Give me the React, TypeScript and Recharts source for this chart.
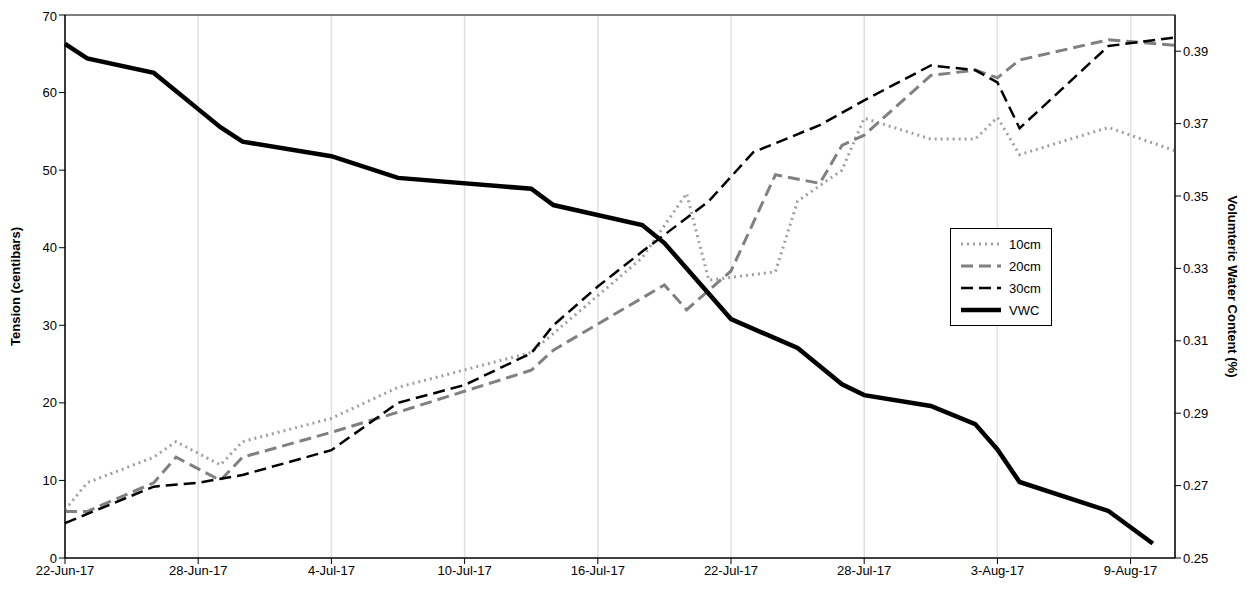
import { LineChart, Line, XAxis, YAxis, CartesianGrid } from 'recharts'

const tickDays = [0, 6, 12, 18, 24, 30, 36, 42, 48]
const tickLabels = ['22-Jun-17', '28-Jun-17', '4-Jul-17', '10-Jul-17', '16-Jul-17', '22-Jul-17', '28-Jul-17', '3-Aug-17', '9-Aug-17']
const leftTicks = [0, 10, 20, 30, 40, 50, 60, 70]
const rightTicks = [0.25, 0.27, 0.29, 0.31, 0.33, 0.35, 0.37, 0.39]

const days10 = [0, 1, 4, 5, 7, 8, 12, 15, 21, 26, 28, 29, 32, 33, 35, 36, 39, 41, 42, 43, 47, 50]
const vals10 = [6.2, 9.7, 13, 15, 12, 15, 18, 22, 26.5, 38.7, 47, 35.8, 36.9, 46, 50, 56.7, 54, 54, 56.8, 52, 55.5, 52.5]
const days20 = [0, 1, 4, 5, 7, 8, 12, 15, 21, 22, 27, 28, 30, 32, 34, 35, 36, 39, 41, 42, 43, 47, 50]
const vals20 = [6, 6, 9.7, 13, 10, 13, 16.2, 18.8, 24.2, 26.8, 35.2, 32, 37, 49.4, 48.3, 53.2, 54.5, 62.2, 62.9, 61.9, 64.2, 66.8, 66.1]
const days30 = [0, 4, 6, 8, 12, 15, 18, 21, 22, 24, 26, 29, 31, 34, 36, 39, 41, 42, 43, 47, 50]
const vals30 = [4.5, 9.2, 9.7, 10.7, 13.9, 20, 22.3, 26.4, 30, 35, 39.5, 46, 52.3, 55.8, 59, 63.5, 62.9, 61.3, 55.4, 66, 67.1]
const daysVwc = [0, 1, 4, 5, 6, 7, 8, 12, 15, 21, 22, 26, 27, 30, 33, 35, 36, 39, 41, 42, 43, 47, 49]
const valsVwc = [0.392, 0.388, 0.384, 0.379, 0.374, 0.369, 0.365, 0.361, 0.355, 0.352, 0.3475, 0.342, 0.337, 0.316, 0.308, 0.298, 0.295, 0.292, 0.287, 0.28, 0.271, 0.263, 0.254]

const zip = (d: number[], v: number[]) => d.map((day, i) => ({ day, v: v[i] }))

const series = [
  { name: '10cm', data: zip(days10, vals10), color: '#a0a0a0', dash: '2 4', width: 3, axis: 'left' },
  { name: '20cm', data: zip(days20, vals20), color: '#808080', dash: '12 6', width: 3, axis: 'left' },
  { name: '30cm', data: zip(days30, vals30), color: '#000', dash: '12 6', width: 2.5, axis: 'left' },
  { name: 'VWC', data: zip(daysVwc, valsVwc), color: '#000', dash: undefined, width: 4.5, axis: 'right' },
]

const font = 'Arial, "Liberation Sans", sans-serif'

function LegendBox() {
  return (
    <div style={{ position: 'absolute', left: 942, top: 220, border: '1px solid #000', background: '#fff', padding: '4px 8px', width: 84, fontFamily: font, fontSize: 13 }}>
      {series.map((s) => (
        <div key={s.name} style={{ display: 'flex', alignItems: 'center', height: 22 }}>
          <svg width={44} height={10}>
            <line x1={2} y1={5} x2={42} y2={5} stroke={s.color} strokeWidth={s.width} strokeDasharray={s.dash} />
          </svg>
          <span style={{ marginLeft: 6 }}>{s.name}</span>
        </div>
      ))}
    </div>
  )
}

export default function App() {
  const tickStyle = { fontSize: 13, fill: '#000', fontFamily: font }
  const labelStyle = { fontSize: 13, fontWeight: 'bold', fontFamily: font, textAnchor: 'middle', fill: '#000' }
  return (
    <div style={{ position: 'relative', width: 1231, height: 580 }}>
      <LineChart width={1231} height={580} margin={{ top: 7, right: 4, bottom: 0, left: 7 }}>
        <CartesianGrid vertical horizontal={false} stroke="#e0e0e0" strokeWidth={1.5} />
        <XAxis
          dataKey="day"
          type="number"
          domain={[0, 50]}
          ticks={tickDays}
          tickFormatter={(d: number) => tickLabels[tickDays.indexOf(d)]}
          tick={tickStyle}
          stroke="#000"
          height={30}
          allowDuplicatedCategory={false}
        />
        <YAxis
          yAxisId="left"
          domain={[0, 70]}
          ticks={leftTicks}
          tick={tickStyle}
          stroke="#000"
          width={50}
          label={{ value: 'Tension (centibars)', angle: -90, position: 'insideLeft', offset: 0, style: labelStyle }}
        />
        <YAxis
          yAxisId="right"
          orientation="right"
          domain={[0.25, 0.4]}
          ticks={rightTicks}
          tickFormatter={(v: number) => v.toFixed(2)}
          tick={tickStyle}
          stroke="#000"
          width={60}
          label={{ value: 'Volumteric Water Content (%)', angle: 90, position: 'insideRight', offset: 2, style: labelStyle }}
        />
        {series.map((s) => (
          <Line
            key={s.name}
            yAxisId={s.axis}
            data={s.data}
            dataKey="v"
            name={s.name}
            stroke={s.color}
            strokeWidth={s.width}
            strokeDasharray={s.dash}
            dot={false}
            type="linear"
            isAnimationActive={false}
          />
        ))}
        <svg>
          <rect x={57} y={7} width={1110} height={543} fill="none" stroke="#000" />
        </svg>
      </LineChart>
      <LegendBox />
    </div>
  )
}
